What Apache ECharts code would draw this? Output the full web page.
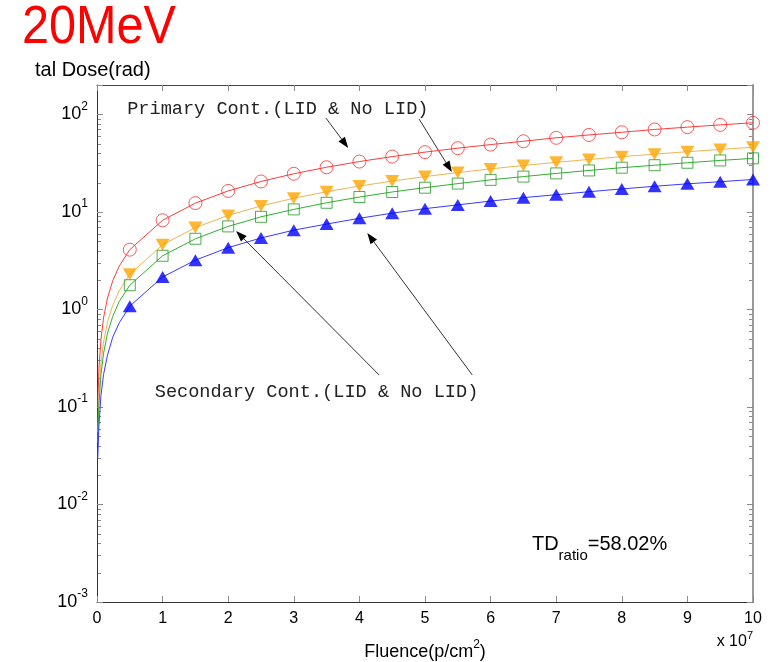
<!DOCTYPE html>
<html>
<head>
<meta charset="utf-8">
<script src="https://cdn.jsdelivr.net/npm/echarts@6/dist/echarts.min.js"></script>
<style>
  html, body { margin: 0; padding: 0; background: #ffffff; }
  #chart { width: 772px; height: 662px; }
</style>
</head>
<body>
<div id="chart"></div>
<script>
// Fluence in units of 1e7 p/cm^2 at the marker positions
const fluence = [0.5, 1, 1.5, 2, 2.5, 3, 3.5, 4, 4.5, 5, 5.5, 6, 6.5, 7, 7.5, 8, 8.5, 9, 9.5, 10];

// Total dose (rad) at each marker
const primaryA   = [4.1, 8.2, 12.3, 16.4, 20.5, 24.6, 28.7, 32.8, 36.9, 41, 45, 49, 53, 57.5, 61.5, 65.5, 70, 74, 78, 82];
const primaryB   = [2.3, 4.6, 6.9, 9.2, 11.5, 13.8, 16.1, 18.4, 20.7, 23, 25.3, 27.6, 29.9, 32.2, 34.5, 36.8, 39.1, 41.4, 43.7, 46];
const secondaryA = [1.77, 3.55, 5.3, 7.1, 8.9, 10.6, 12.4, 14.2, 16, 17.7, 19.5, 21.3, 23, 24.8, 26.6, 28.4, 30.1, 31.9, 33.7, 35.4];
const secondaryB = [1.08, 2.15, 3.2, 4.3, 5.4, 6.5, 7.5, 8.6, 9.7, 10.8, 11.8, 12.9, 14, 15, 16.1, 17.2, 18.3, 19.4, 20.4, 21.5];

// Low-fluence part of each curve (no markers there)
const leadFluence    = [0.012, 0.03, 0.06, 0.1, 0.16, 0.24, 0.34];
const primaryALead   = [0.098, 0.25, 0.49, 0.82, 1.31, 1.97, 2.79];
const primaryBLead   = [0.055, 0.14, 0.28, 0.46, 0.74, 1.10, 1.56];
const secondaryALead = [0.043, 0.107, 0.213, 0.355, 0.57, 0.85, 1.21];
const secondaryBLead = [0.03, 0.065, 0.13, 0.215, 0.34, 0.52, 0.73];

const xTicks = [0, 1, 2, 3, 4, 5, 6, 7, 8, 9, 10];
const primaryText = 'Primary Cont.(LID & No LID)';
const secondaryText = 'Secondary Cont.(LID & No LID)';
const ratioText = ['TD', 'ratio', '=58.02%'];

const SANS = '"Liberation Sans", Arial, sans-serif';
const MONO = '"Liberation Mono", "Courier New", monospace';

const chart = echarts.init(document.getElementById('chart'), null, { renderer: 'canvas' });

function pairs(xs, ys) { return xs.map((x, i) => [x, ys[i]]); }

function powLabel(v) {
  const l = Math.log10(v);
  const e = Math.round(l);
  if (Math.abs(l - e) > 1e-6) return '';
  return '{b|10}{s|' + e + '}';
}

const richPow = {
  b: { fontSize: 18, lineHeight: 28, fontFamily: SANS, color: '#000' },
  s: { fontSize: 12, lineHeight: 12, verticalAlign: 'top', fontFamily: SANS, color: '#000' }
};

const curves = [
  { name: 'Primary A', lead: primaryALead, vals: primaryA, line: '#ff3b3b',
    marker: { symbol: 'circle', symbolSize: 13, itemStyle: { color: 'rgba(0,0,0,0)', borderColor: '#ff3030', borderWidth: 1 } } },
  { name: 'Primary B', lead: primaryBLead, vals: primaryB, line: '#eeb555',
    marker: { symbol: 'triangle', symbolRotate: 180, symbolSize: [14, 12], itemStyle: { color: '#ffa500' } } },
  { name: 'Secondary A', lead: secondaryALead, vals: secondaryA, line: '#30b030',
    marker: { symbol: 'rect', symbolSize: 11, itemStyle: { color: 'rgba(0,0,0,0)', borderColor: '#229922', borderWidth: 1 } } },
  { name: 'Secondary B', lead: secondaryBLead, vals: secondaryB, line: '#3a3aff',
    marker: { symbol: 'triangle', symbolSize: [14, 12], itemStyle: { color: '#0000ff' } } }
];

const series = [];
curves.forEach(c => {
  series.push({
    name: c.name, type: 'line', xAxisIndex: 0, yAxisIndex: 0,
    data: pairs(leadFluence, c.lead).concat(pairs(fluence, c.vals)),
    showSymbol: false, symbol: 'none', smooth: false,
    lineStyle: { color: c.line, width: 1 }, z: 2, silent: true
  });
  series.push(Object.assign({
    name: c.name + ' markers', type: 'scatter', xAxisIndex: 0, yAxisIndex: 0,
    data: pairs(fluence, c.vals), z: 3, silent: true
  }, c.marker));
});

const tickStyle = { color: '#8a8a8a', width: 1 };

chart.setOption({
  animation: false,
  backgroundColor: '#ffffff',
  grid: { left: 97, right: 19, top: 85, bottom: 60, containLabel: false, outerBoundsMode: 'none' },
  xAxis: [
    {
      type: 'value', min: 0, max: 10, interval: 1, position: 'bottom',
      axisLine: { onZero: false, lineStyle: { color: '#333', width: 1 } },
      axisTick: { inside: true, length: 6, lineStyle: tickStyle },
      axisLabel: { color: '#000', fontFamily: SANS, fontSize: 16, margin: 9,
        formatter: v => (xTicks.indexOf(v) >= 0 ? String(v) : '') },
      splitLine: { show: false },
      name: '{b|Fluence(p/cm}{s|2}{b|)}', nameLocation: 'middle', nameGap: 37,
      nameTextStyle: { rich: {
        b: { fontSize: 18, lineHeight: 26, fontFamily: SANS, color: '#000' },
        s: { fontSize: 12, lineHeight: 12, verticalAlign: 'top', fontFamily: SANS, color: '#000' }
      } }
    },
    {
      type: 'value', min: 0, max: 10, interval: 1, position: 'top',
      axisLine: { onZero: false, lineStyle: { color: '#444', width: 1 } },
      axisTick: { inside: true, length: 6, lineStyle: tickStyle },
      axisLabel: { show: false }, splitLine: { show: false }
    }
  ],
  yAxis: [
    {
      type: 'log', logBase: 10, min: 0.001, max: 200, position: 'left',
      axisLine: { show: true, onZero: false, lineStyle: { color: '#333', width: 1 } },
      axisTick: { show: true, inside: true, length: 6, lineStyle: tickStyle },
      axisLabel: { formatter: powLabel, rich: richPow, margin: 9 },
      splitLine: { show: false }
    },
    {
      type: 'log', logBase: 10, min: 0.001, max: 200, position: 'right',
      axisLine: { show: true, onZero: false, lineStyle: { color: '#9a9a9a', width: 2 } },
      axisTick: { show: true, inside: true, length: 6, lineStyle: tickStyle },
      axisLabel: { show: false }, splitLine: { show: false }
    }
  ],
  series: series
});

// ---- overlay: minor log ticks, annotations and labels ----
function px(x, y) { return chart.convertToPixel({ xAxisIndex: 0, yAxisIndex: 0 }, [x, y]); }

const g = [];
const leftX = px(0, 1)[0];
const rightX = px(10, 1)[0];
for (let k = -3; k <= 2; k++) {
  for (let m = 2; m <= 9; m++) {
    const v = m * Math.pow(10, k);
    if (v >= 200) continue;
    const y = Math.round(px(0, v)[1]) + 0.5;
    g.push({ type: 'line', shape: { x1: leftX, y1: y, x2: leftX + 4, y2: y }, style: { stroke: '#8a8a8a', lineWidth: 1 }, silent: true });
    g.push({ type: 'line', shape: { x1: rightX - 4, y1: y, x2: rightX, y2: y }, style: { stroke: '#8a8a8a', lineWidth: 1 }, silent: true });
  }
}

// annotation arrows: [fromX, fromY, toX, toY] in data units
const arrows = [
  [3.49, 91.6, 3.83, 45.2],
  [4.91, 89.5, 5.41, 25.6],
  [4.30, 0.213, 2.12, 6.37],
  [5.72, 0.213, 4.12, 6.08]
];
arrows.forEach(a => {
  const p0 = px(a[0], a[1]);
  const p1 = px(a[2], a[3]);
  const dx = p1[0] - p0[0], dy = p1[1] - p0[1];
  const len = Math.sqrt(dx * dx + dy * dy);
  const ux = dx / len, uy = dy / len;
  const hl = 11, hw = 4;
  const bx = p1[0] - ux * hl, by = p1[1] - uy * hl;
  g.push({ type: 'line', shape: { x1: p0[0], y1: p0[1], x2: bx, y2: by },
    style: { stroke: '#333', lineWidth: 1 }, silent: true });
  g.push({ type: 'polygon', shape: { points: [
      [p1[0], p1[1]],
      [bx - uy * hw, by + ux * hw],
      [bx + uy * hw, by - ux * hw]
    ] }, style: { fill: '#000' }, silent: true });
});

const pPrim = px(0.46, 113);
g.push({ type: 'text', x: pPrim[0], y: pPrim[1], silent: true,
  style: { text: primaryText, fontFamily: MONO, fontSize: 18.6, fill: '#222', align: 'left', verticalAlign: 'middle' } });
const pSec = px(0.88, 0.143);
g.push({ type: 'text', x: pSec[0], y: pSec[1], silent: true,
  style: { text: secondaryText, fontFamily: MONO, fontSize: 18.6, fill: '#222', align: 'left', verticalAlign: 'middle' } });

// TD ratio label with subscript
const meas = document.createElement('canvas').getContext('2d');
function textW(t, size) { meas.font = size + 'px ' + SANS; return meas.measureText(t).width; }
const pR = px(6.63, 0.00386);
let rx = pR[0];
g.push({ type: 'text', x: rx, y: pR[1], silent: true,
  style: { text: ratioText[0], fontFamily: SANS, fontSize: 20, fill: '#000', align: 'left', verticalAlign: 'middle' } });
rx += textW(ratioText[0], 20);
g.push({ type: 'text', x: rx, y: pR[1] + 11, silent: true,
  style: { text: ratioText[1], fontFamily: SANS, fontSize: 15, fill: '#000', align: 'left', verticalAlign: 'middle' } });
rx += textW(ratioText[1], 15);
g.push({ type: 'text', x: rx, y: pR[1], silent: true,
  style: { text: ratioText[2], fontFamily: SANS, fontSize: 20, fill: '#000', align: 'left', verticalAlign: 'middle' } });

// exponent note for the fluence axis
g.push({ type: 'text', right: 19, top: 630, silent: true,
  style: { text: '{b|x 10}{s|7}', fontFamily: SANS, rich: {
    b: { fontSize: 16, lineHeight: 24, fontFamily: SANS, color: '#000' },
    s: { fontSize: 11, lineHeight: 11, verticalAlign: 'top', fontFamily: SANS, color: '#000' }
  } } });

// heading and dose axis caption
g.push({ type: 'text', x: 22, y: 28, scaleX: 0.9, silent: true,
  style: { text: '20MeV', fontFamily: SANS, fontSize: 54, fill: '#ff0000', align: 'left', verticalAlign: 'middle' } });
g.push({ type: 'text', x: 35, y: 70, silent: true,
  style: { text: 'tal Dose(rad)', fontFamily: SANS, fontSize: 20, fill: '#000', align: 'left', verticalAlign: 'middle' } });

chart.setOption({ graphic: { elements: g } });
</script>
</body>
</html>
